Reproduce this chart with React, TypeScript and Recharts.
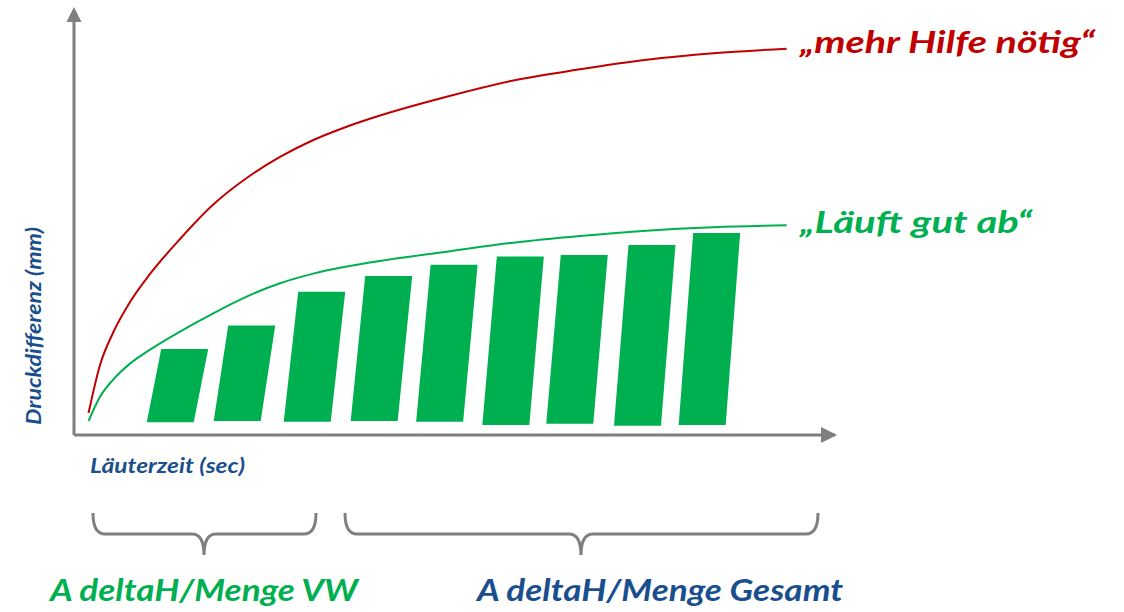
import React from "react";
import {
  Bar,
  ComposedChart,
  Customized,
  Line,
  ReferenceDot,
  ReferenceLine,
  XAxis,
  YAxis,
} from "recharts";

// Läuterzeit (arbitrary units 0..100) and Druckdifferenz (0..100)
const curveTime = [1.91, 3.42, 5.12, 7.36, 9.99, 13.93, 18.3, 22.69, 27.07, 31.45, 35.83, 40.21, 48.97, 57.73, 66.49, 75.26, 84.01, 93.65];
const redPressure = [5.3, 16.87, 24.58, 32.05, 38.8, 47.23, 55.54, 61.93, 66.99, 71.08, 74.29, 76.99, 81.52, 85.42, 88.12, 90.41, 91.98, 93.08];
const greenPressure = [3.37, 9.23, 13.3, 17.2, 20.58, 24.92, 29.33, 33.35, 36.55, 38.89, 40.58, 41.93, 44.17, 46.34, 47.95, 49.23, 50.05, 50.53];

const barTime = [13.6, 22.4, 31.6, 40.4, 49.0, 57.7, 66.1, 75.0, 83.5];
const barTop = [20.7, 26.4, 34.5, 38.3, 41.0, 43.0, 43.4, 45.8, 48.7];
const barBase = [3.1, 3.4, 3.2, 3.4, 3.2, 2.4, 2.7, 2.2, 2.4];

const RED = "#c00000";
const GREEN = "#00b050";
const BLUE = "#1a4f8e";
const GREY = "#7f7f7f";
const FONT = "Lato, 'Open Sans', sans-serif";

type Row = { t: number; red?: number; green?: number; range?: [number, number] };

const rows: Row[] = [
  ...curveTime.map((t, i) => ({ t, red: redPressure[i], green: greenPressure[i] })),
  ...barTime.map((t, i) => ({ t, range: [barBase[i], barTop[i]] as [number, number] })),
].sort((a, b) => a.t - b.t);

const SlantBar = (props: any) => {
  const { x, y, width, height } = props;
  if (x == null || y == null) return null;
  const cx = x + width / 2;
  const top = Math.min(y, y + height);
  const bottom = Math.max(y, y + height);
  const w = 23.5;
  const s = 7.25;
  const pts = [
    [cx - w + s, top],
    [cx + w + s, top],
    [cx + w - s, bottom],
    [cx - w - s, bottom],
  ]
    .map((p) => p.join(","))
    .join(" ");
  return <polygon points={pts} fill={GREEN} />;
};

const ArrowRight = (props: any) => {
  const { cx, cy } = props;
  return (
    <polygon
      points={`${cx + 2},${cy} ${cx - 14},${cy - 8} ${cx - 14},${cy + 8}`}
      fill={GREY}
    />
  );
};

const ArrowUp = (props: any) => {
  const { cx, cy } = props;
  return (
    <polygon
      points={`${cx},${cy - 13} ${cx - 7.5},${cy + 2} ${cx + 7.5},${cy + 2}`}
      fill={GREY}
    />
  );
};

const brace = (x1: number, x2: number, xm: number) => {
  const y0 = 513;
  const y1 = 534;
  const y2 = 555;
  const r = 12;
  return `M${x1},${y0} Q${x1},${y1} ${x1 + r},${y1} L${xm - r},${y1} Q${xm},${y1} ${xm},${y2} Q${xm},${y1} ${xm + r},${y1} L${x2 - r},${y1} Q${x2},${y1} ${x2},${y0}`;
};

const Annotations = () => {
  const txt = { fontFamily: FONT, fontWeight: 700, fontStyle: "italic" as const };
  return (
    <g>
      <text x={800} y={53} fill={RED} fontSize={30} textLength={295} lengthAdjust="spacingAndGlyphs" {...txt}>
        „mehr Hilfe nötig“
      </text>
      <text x={800} y={233} fill={GREEN} fontSize={30} textLength={232} lengthAdjust="spacingAndGlyphs" {...txt}>
        „Läuft gut ab“
      </text>
      <text x={90} y={473} fill={BLUE} fontSize={20} textLength={155} lengthAdjust="spacingAndGlyphs" {...txt}>
        Läuterzeit (sec)
      </text>
      <text
        transform="translate(41,326) rotate(-90)"
        textAnchor="middle"
        fill={BLUE}
        fontSize={20}
        textLength={198}
        lengthAdjust="spacingAndGlyphs"
        {...txt}
      >
        Druckdifferenz (mm)
      </text>
      <path d={brace(93, 316, 204)} fill="none" stroke={GREY} strokeWidth={3} />
      <path d={brace(345, 818, 581)} fill="none" stroke={GREY} strokeWidth={3} />
      <text x={50} y={601} fill={GREEN} fontSize={30} textLength={308} lengthAdjust="spacingAndGlyphs" {...txt}>
        A deltaH/Menge VW
      </text>
      <text x={477} y={601} fill={BLUE} fontSize={30} textLength={366} lengthAdjust="spacingAndGlyphs" {...txt}>
        A deltaH/Menge Gesamt
      </text>
    </g>
  );
};

export default function App() {
  return (
    <div style={{ width: 1124, height: 612, background: "#fff" }}>
      <style>{`body{margin:0}`}</style>
      <ComposedChart
        width={1124}
        height={612}
        data={rows}
        margin={{ top: 20, right: 289, bottom: 177, left: 74 }}
      >
        <XAxis dataKey="t" type="number" domain={[0, 100]} allowDataOverflow hide />
        <YAxis type="number" domain={[0, 100]} allowDataOverflow hide />
        <Bar dataKey="range" barSize={47} shape={<SlantBar />} isAnimationActive={false} />
        <Line
          dataKey="red"
          type="monotone"
          stroke={RED}
          strokeWidth={2}
          dot={false}
          connectNulls
          isAnimationActive={false}
        />
        <Line
          dataKey="green"
          type="monotone"
          stroke={GREEN}
          strokeWidth={2}
          dot={false}
          connectNulls
          isAnimationActive={false}
        />
        <ReferenceLine
          segment={[{ x: 0, y: 0 }, { x: 100, y: 0 }]}
          stroke={GREY}
          strokeWidth={3}
          ifOverflow="visible"
        />
        <ReferenceLine
          segment={[{ x: 0, y: 0 }, { x: 0, y: 100 }]}
          stroke={GREY}
          strokeWidth={3}
          ifOverflow="visible"
        />
        <ReferenceDot x={100} y={0} r={0} ifOverflow="visible" shape={<ArrowRight />} />
        <ReferenceDot x={0} y={100} r={0} ifOverflow="visible" shape={<ArrowUp />} />
        <Customized component={<Annotations />} />
      </ComposedChart>
    </div>
  );
}
